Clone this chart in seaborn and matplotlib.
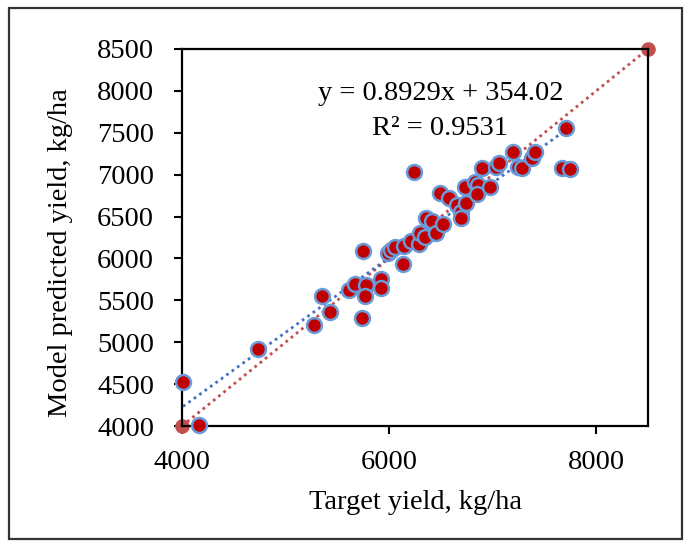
import numpy as np
import pandas as pd
import matplotlib
matplotlib.use("Agg")
import matplotlib.pyplot as plt
import seaborn as sns
from matplotlib.patches import Rectangle

# ---- data ----
target_yield = [4010, 4160, 4730, 5270, 5350, 5425, 5610, 5675, 5740, 5745,
                5775, 5765, 5920, 5920, 5990, 6018, 6060, 6135, 6140, 6208,
                6240, 6288, 6301, 6343, 6352, 6417, 6449, 6520, 6494, 6578,
                6658, 6697, 6697, 6729, 6745, 6825, 6858, 6848, 6896, 6970,
                7034, 7060, 7195, 7244, 7286, 7382, 7411, 7672, 7749, 7704]
predicted_yield = [4525, 4015, 4925, 5200, 5553, 5362, 5621, 5693, 5290, 6083,
                   5689, 5549, 5760, 5653, 6071, 6099, 6139, 5932, 6147, 6206,
                   7031, 6178, 6298, 6258, 6485, 6449, 6298, 6409, 6776, 6716,
                   6636, 6557, 6477, 6855, 6664, 6915, 6875, 6768, 7074, 6855,
                   7094, 7134, 7266, 7094, 7082, 7194, 7274, 7082, 7062, 7552]
one_to_one = [4000, 8500]
x_ticks = [4000, 6000, 8000]
y_ticks = [4000, 4500, 5000, 5500, 6000, 6500, 7000, 7500, 8000, 8500]
eq_text = "y = 0.8929x + 354.02"
r2_text = "R² = 0.9531"

df = pd.DataFrame({"target": target_yield, "pred": predicted_yield})
ref = pd.DataFrame({"x": one_to_one, "y": one_to_one})

sns.set_theme(style="ticks")
plt.rcParams["font.family"] = ["Liberation Serif", "DejaVu Serif"]
plt.rcParams["text.color"] = "black"
plt.rcParams["axes.labelcolor"] = "black"

FS = 20.5

fig = plt.figure(figsize=(6.86, 5.42), dpi=100)
ax = fig.add_axes([0.2653, 0.214, 0.6793, 0.6956])

# outer frame
fig.patches.append(Rectangle((9/686, 1 - 539/542), (682-9)/686, (539-8)/542,
                             transform=fig.transFigure, fill=False,
                             edgecolor="#333333", linewidth=1.6, zorder=0))

# 1:1 line with end markers
ax.plot(ref["x"], ref["y"], color="#C0504D", linestyle=(0, (1, 1.4)),
        linewidth=2.0, marker="o", markersize=10.5, markeredgewidth=0,
        clip_on=False, zorder=2)

# regression trendline
sns.regplot(data=df, x="target", y="pred", scatter=False, ci=None,
            truncate=True, ax=ax,
            line_kws=dict(color="#4472C4", linestyle=(0, (1, 1.4)),
                          linewidth=2.0, zorder=2))

# scatter
sns.scatterplot(data=df, x="target", y="pred", ax=ax, s=115,
                color="#C00000", edgecolor="#6A9BD8", linewidth=1.8,
                zorder=3, clip_on=False)

ax.set_xlim(4000, 8500)
ax.set_ylim(4000, 8500)
ax.set_xticks(x_ticks)
ax.set_yticks(y_ticks)
ax.tick_params(axis="both", direction="out", length=6, width=1.5,
               labelsize=FS, colors="black")
ax.tick_params(axis="y", pad=14)
ax.tick_params(axis="x", pad=11)
for sp in ax.spines.values():
    sp.set_visible(True)
    sp.set_linewidth(1.6)
    sp.set_color("black")

ax.set_xlabel("Target yield, kg/ha", fontsize=FS)
ax.set_ylabel("Model predicted yield, kg/ha", fontsize=FS)
ax.xaxis.set_label_coords(0.501, -0.170)
ax.yaxis.set_label_coords(-0.234, 0.459)

ax.text(0.556, 0.882, eq_text, transform=ax.transAxes, ha="center",
        va="center", fontsize=FS)
ax.text(0.554, 0.789, r2_text, transform=ax.transAxes, ha="center",
        va="center", fontsize=FS)

fig.savefig("out.png", dpi=100)
